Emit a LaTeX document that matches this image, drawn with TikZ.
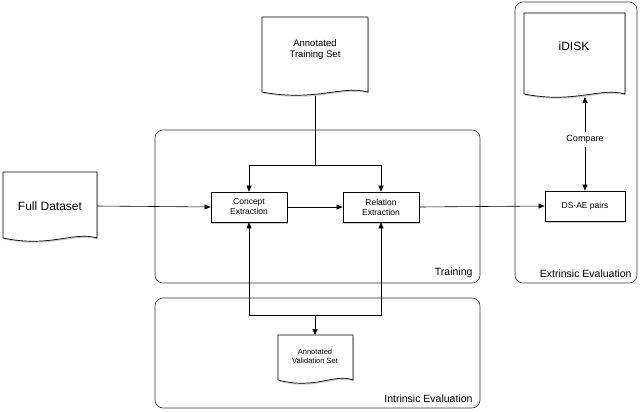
\documentclass[tikz,border=0pt]{standalone}
\usepackage{fontspec}
\setmainfont{Liberation Sans}
\usetikzlibrary{arrows.meta,shadows}
\begin{document}
\begin{tikzpicture}[x=1pt,y=-1pt,
  grp/.style={draw=black!80,rounded corners=8pt,line width=0.6pt},
  proc/.style={draw,fill=white,line width=0.7pt,minimum width=76pt,minimum height=30pt,align=center,font=\fontsize{8.5}{10}\selectfont,drop shadow={shadow xshift=1pt,shadow yshift=-1.5pt,opacity=0.4}},
  doc/.style={draw,line width=0.7pt,fill=white,drop shadow={shadow xshift=1pt,shadow yshift=-1.5pt,opacity=0.4}},
  con/.style={line width=0.6pt},
  arr/.style={con,-{Triangle[length=6pt,width=5pt]}},
  lbl/.style={font=\fontsize{10.5}{12}\selectfont}]
\useasboundingbox (0,0) rectangle (640,412);
% group boxes
\draw[grp] (155,130) rectangle (480,283);
\draw[grp] (155,298) rectangle (480,408);
\draw[grp] (515,2) rectangle (637,283);
\node[lbl,anchor=south east] at (476,281) {Training};
\node[lbl,anchor=south east] at (476,406) {Intrinsic Evaluation};
\node[lbl,anchor=south east] at (635,281) {Extrinsic Evaluation};
% documents
\newcommand{\mydoc}[5]{% x1 y1 x2 y2(bottom of straight) name
  \draw[doc] (#1,#2) -- (#3,#2) -- (#3,#4) .. controls ({#3-0.25*(#3-#1)},{#4-7}) and ({#1+0.5*(#3-#1)},{#4+10}) .. (#1,#4) -- cycle;}
\mydoc{262}{17}{368}{92}{ats}
\node[font=\fontsize{9.5}{11}\selectfont,align=center] (ats) at (315,50) {Annotated\\Training Set};
\coordinate (atsb) at (315,96);
\mydoc{3}{172}{97}{238}{fd}
\node[font=\fontsize{12}{14}\selectfont] (fd) at (50,206) {Full Dataset};
\coordinate (fde) at (97,206);
\mydoc{524}{13}{625}{94}{idisk}
\node[font=\fontsize{12}{14}\selectfont] (idisk) at (574,46) {iDISK};
\coordinate (idiskb) at (585,97);
\mydoc{278}{335}{353}{380}{avs}
\node[font=\fontsize{7.5}{9}\selectfont,align=center] (avs) at (315,356) {Annotated\\Validation Set};
\coordinate (avst) at (315,335);
% process boxes
\node[proc] (ce) at (249,207) {Concept\\Extraction};
\node[proc] (re) at (381,207) {Relation\\Extraction};
\node[proc,minimum width=80pt] (ds) at (585,206) {DS-AE pairs};
% connectors
\coordinate (top) at (315,165);
\draw[con] (atsb) -- (top);
\draw[arr] (top) -| (ce.north);
\draw[arr] (top) -| (re.north);
\draw[arr] (fde) -- (ce.west);
\draw[arr] (ce.east) -- (re.west);
\draw[arr] (re.east) -- (ds.west);
\draw[arr,{Triangle[length=6pt,width=5pt]}-{Triangle[length=6pt,width=5pt]}] (idiskb) -- (ds.north) node[pos=0.45,fill=white,font=\fontsize{9}{10}\selectfont] {Compare};
\coordinate (bot) at (315,315);
\draw[arr] (bot) -| (ce.south);
\draw[arr] (bot) -| (re.south);
\draw[arr] (bot) -- (avst);
\end{tikzpicture}
\end{document}
